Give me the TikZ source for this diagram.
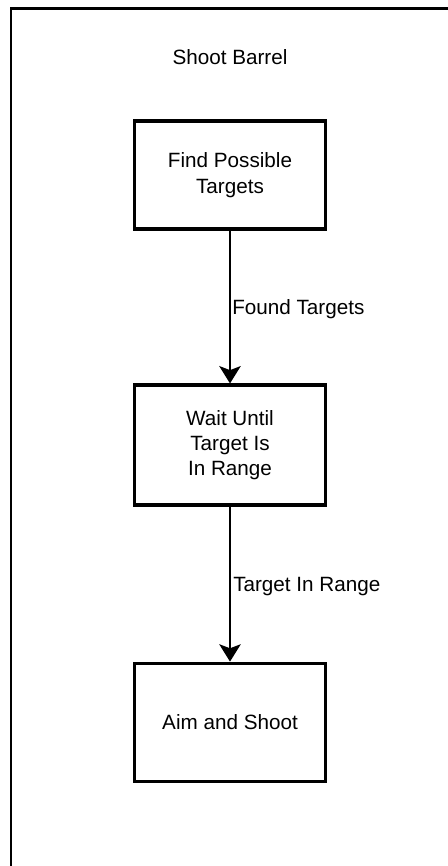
\documentclass[tikz,border=0pt]{standalone}
\usepackage{fontspec}
\setmainfont{Liberation Sans}
\usetikzlibrary{arrows.meta}
\begin{document}
\begin{tikzpicture}[x=0.75pt,y=-0.75pt,
  stepbox/.style={draw,line width=2.3pt,minimum width=143pt,align=center,
    font=\fontsize{15.5pt}{19pt}\selectfont,inner sep=0pt},
  flow/.style={line width=1.9pt,-{Stealth[length=13pt,width=16pt,inset=3pt]}},
  lbl/.style={anchor=west,inner sep=0pt,font=\fontsize{15.5pt}{19pt}\selectfont}]
\useasboundingbox (0,0) rectangle (448,866);
\fill[white] (0,0) rectangle (448,866);
% outer frame (left and top edges)
\draw[line width=1.9pt] (11,870) -- (11,8.7) -- (452,8.7);
\node[inner sep=0pt,font=\fontsize{15.5pt}{19pt}\selectfont] (title) at (230,57) {Shoot Barrel};
\node[stepbox,minimum height=81pt] (find) at (230,175) {Find Possible\\Targets};
\node[stepbox,minimum height=90pt] (wait) at (230,445) {Wait Until\\Target Is\\In Range};
\node[stepbox,minimum height=89pt] (aim) at (230,722.5) {Aim and Shoot};
\draw[flow] (find) -- (wait);
\draw[flow] (wait) -- (aim);
\node[lbl] (l1) at (232,309) {Found Targets};
\node[lbl] (l2) at (233,587) {Target In Range};
\end{tikzpicture}
\end{document}
